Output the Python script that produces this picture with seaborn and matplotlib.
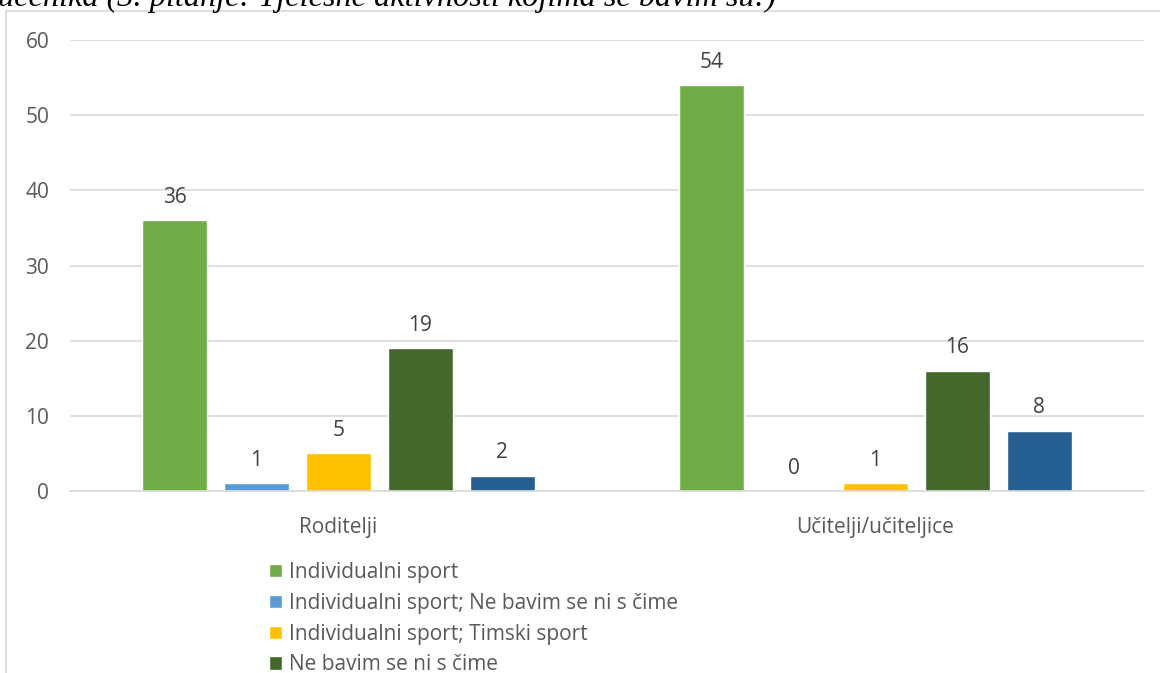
import matplotlib
matplotlib.use("Agg")
import matplotlib.pyplot as plt
import seaborn as sns
import pandas as pd
from matplotlib.patches import Rectangle

categories = ["Roditelji", "Učitelji/učiteljice"]
series = ["Individualni sport",
          "Individualni sport; Ne bavim se ni s čime",
          "Individualni sport; Timski sport",
          "Ne bavim se ni s čime",
          "Timski sport"]
values_roditelji = [36, 1, 5, 19, 2]
values_ucitelji = [54, 0, 1, 16, 8]
colors = ["#70AD47", "#5B9BD5", "#FFC000", "#43682B", "#255E91"]
yticks = [0, 10, 20, 30, 40, 50, 60]

rows = []
for s, a, b in zip(series, values_roditelji, values_ucitelji):
    rows.append({"cat": categories[0], "series": s, "val": a})
    rows.append({"cat": categories[1], "series": s, "val": b})
df = pd.DataFrame(rows)

sns.set_theme(style="white")
plt.rcParams['font.family'] = ['Open Sans', 'DejaVu Sans']
txt = "#595959"
fs = 15

fig = plt.figure(figsize=(11.6, 6.73), dpi=100)
ax = fig.add_axes([70/1160, 182/673, (1144-70)/1160, (491-40)/673])

sns.barplot(data=df, x="cat", y="val", hue="series", order=categories,
            hue_order=series, palette=colors, width=0.763, gap=0.207,
            saturation=1, ax=ax, legend=True)

for c in ax.containers:
    ax.bar_label(c, padding=9, fontsize=fs, color="#404040")

ax.set_ylim(0, 60)
ax.set_xlim(-0.5, 1.5)
ax.set_yticks(yticks)
ax.yaxis.grid(True, color="#D9D9D9", linewidth=1.2)
ax.set_axisbelow(True)
for sp in ["top", "right", "left"]:
    ax.spines[sp].set_visible(False)
ax.spines["bottom"].set_color("#D9D9D9")
ax.spines["bottom"].set_linewidth(1.2)
ax.tick_params(axis="y", length=0, labelsize=fs, colors=txt, pad=15)
ax.tick_params(axis="x", length=0, labelsize=fs, colors=txt, pad=18.5)
ax.set_xlabel("")
ax.set_ylabel("")

h, l = ax.get_legend_handles_labels()
ax.get_legend().remove()
fig.legend(h, l, loc="upper left", bbox_to_anchor=(269/1160, 1 - 562/673),
           frameon=False, fontsize=fs, labelcolor=txt, handlelength=0.6,
           handleheight=0.6, handletextpad=0.35, labelspacing=0.47,
           borderaxespad=0, borderpad=0)

# chart frame
fig.patches.append(Rectangle((6/1160, -0.05), 1.1, 1 - 11/673 + 0.05,
                             transform=fig.transFigure, fill=False,
                             edgecolor="#D9D9D9", linewidth=1.2, clip_on=False))

fig.text(-2/1160, 1 - 6/673, "učenika (3. pitanje: Tjelesne aktivnosti kojima se bavim su:)",
         family="Liberation Serif", style="italic", fontsize=23.2, color="black",
         va="baseline", ha="left")

fig.savefig("out.png", dpi=100)
